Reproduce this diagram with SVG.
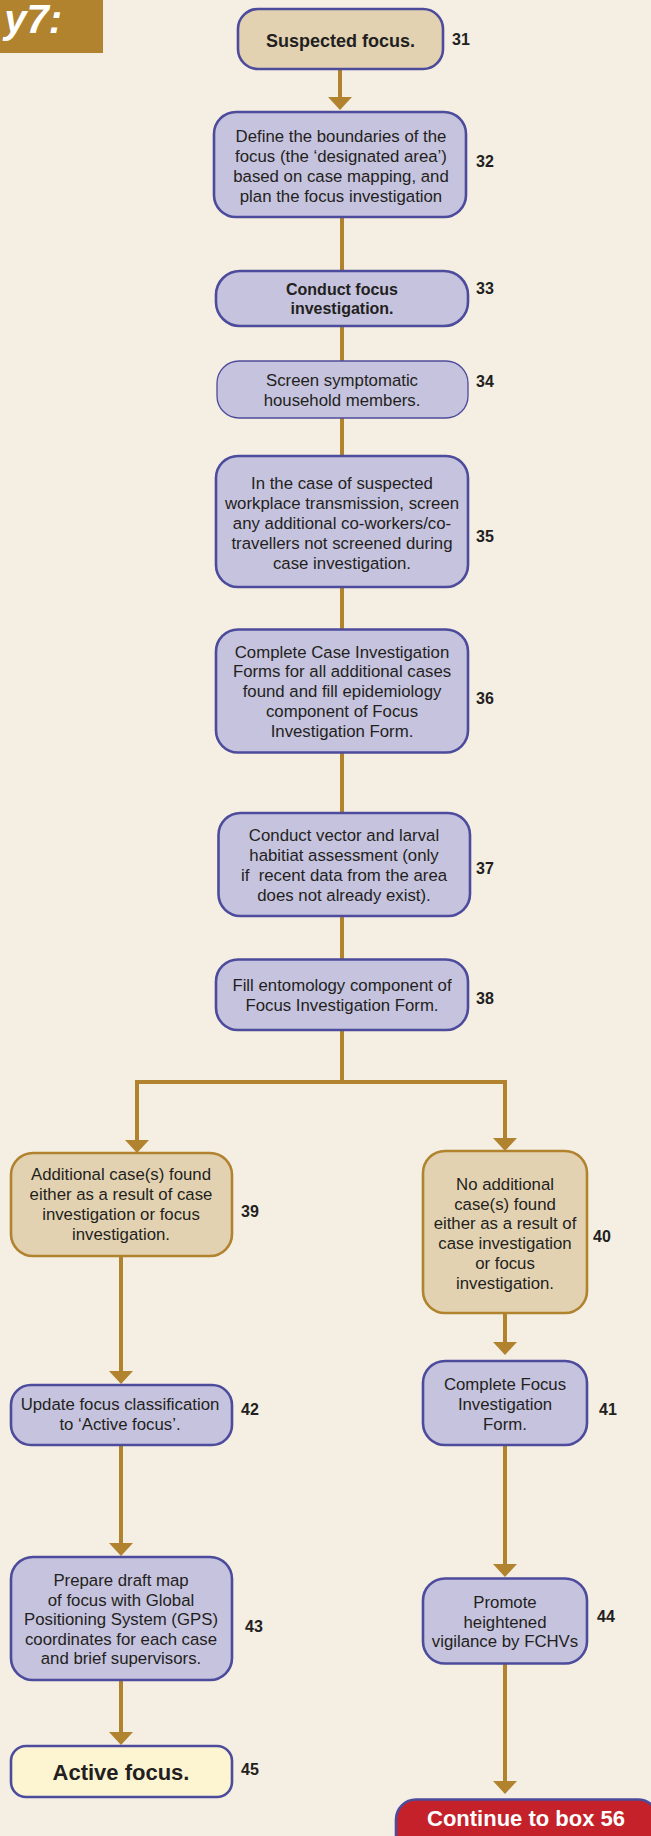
<svg xmlns="http://www.w3.org/2000/svg" width="651" height="1836" viewBox="0 0 651 1836">
<style>
.bg{fill:#f4eee3}
.pb{fill:#c6c3de;stroke:#4d4b9c;stroke-width:2.6}
.tb{fill:#e2d2b2;stroke:#4d4b9c;stroke-width:2.6}
.gb{fill:#e2d2b2;stroke:#b1832f;stroke-width:2.6}
.yb{fill:#fdf5d2;stroke:#4d4b9c;stroke-width:2.6}
.rb{fill:#c4212a;stroke:#4d4b9c;stroke-width:2.6}
.t{font-family:"Liberation Sans",Arial,sans-serif;font-size:16.8px;fill:#231f20;text-anchor:middle}
.tbold{font-family:"Liberation Sans",Arial,sans-serif;font-weight:bold;fill:#231f20;text-anchor:middle}
.num{font-family:"Liberation Sans",Arial,sans-serif;font-weight:bold;font-size:16px;fill:#231f20}
.ln{fill:none;stroke:#b1832f;stroke-width:4}
.ar{marker-end:url(#arr)}
</style>
<defs>
<marker id="arr" markerUnits="userSpaceOnUse" viewBox="0 0 13 24" markerWidth="13" markerHeight="24" refX="1" refY="12" orient="auto">
<path d="M0,0 L13,12 L0,24 Z" fill="#b1832f"/>
</marker>
</defs>
<rect class="bg" x="0" y="0" width="651" height="1836"/>

<g id="header">
<rect x="0" y="0" width="103" height="53" fill="#b1832f"/>
<text x="62" y="33" font-family="Liberation Sans,Arial,sans-serif" font-weight="bold" font-style="italic" font-size="40" fill="#ffffff" text-anchor="end">y7:</text>
</g>

<g id="connectors">
<path class="ln ar" d="M340,69 L340,98"/>
<path class="ln" d="M342,217 L342,271"/>
<path class="ln" d="M342,326 L342,361"/>
<path class="ln" d="M342,418 L342,456"/>
<path class="ln" d="M342,587 L342,630"/>
<path class="ln" d="M342,752 L342,813"/>
<path class="ln" d="M342,916 L342,960"/>
<path class="ln" d="M342,1030 L342,1082"/>
<path class="ln" d="M137,1082 L505,1082"/>
<path class="ln ar" d="M137,1080 L137,1141"/>
<path class="ln ar" d="M505,1080 L505,1139"/>
<path class="ln ar" d="M121,1256 L121,1372"/>
<path class="ln ar" d="M121,1445 L121,1544"/>
<path class="ln ar" d="M121,1680 L121,1733"/>
<path class="ln ar" d="M505,1313 L505,1343"/>
<path class="ln ar" d="M505,1445 L505,1565"/>
<path class="ln ar" d="M505,1663 L505,1782"/>
</g>

<g id="n31">
<rect class="tb" x="238" y="9" width="205" height="60" rx="20"/>
<text class="tbold" x="340.5" y="46.5" font-size="18">Suspected focus.</text>
<text class="num" x="452" y="45">31</text>
</g>

<g id="n32">
<rect class="pb" x="214" y="112" width="252" height="105" rx="22"/>
<text class="t"><tspan x="341" y="142">Define the boundaries of the</tspan><tspan x="341" y="162">focus (the ‘designated area’)</tspan><tspan x="341" y="182">based on case mapping, and</tspan><tspan x="341" y="202">plan the focus investigation</tspan></text>
<text class="num" x="476" y="167">32</text>
</g>

<g id="n33">
<rect class="pb" x="216" y="271" width="252" height="55" rx="24"/>
<text class="tbold" font-size="16"><tspan x="342" y="294.5">Conduct focus</tspan><tspan x="342" y="314">investigation.</tspan></text>
<text class="num" x="476" y="294">33</text>
</g>

<g id="n34">
<rect class="pb" x="217" y="361" width="251" height="57" rx="22" style="stroke-width:1.3"/>
<text class="t"><tspan x="342" y="386">Screen symptomatic</tspan><tspan x="342" y="406">household members.</tspan></text>
<text class="num" x="476" y="387">34</text>
</g>

<g id="n35">
<rect class="pb" x="216" y="456" width="252" height="131" rx="22"/>
<text class="t"><tspan x="342" y="488.5">In the case of suspected</tspan><tspan x="342" y="508.5">workplace transmission, screen</tspan><tspan x="342" y="528.5">any additional co-workers/co-</tspan><tspan x="342" y="548.5">travellers not screened during</tspan><tspan x="342" y="568.5">case investigation.</tspan></text>
<text class="num" x="476" y="542">35</text>
</g>

<g id="n36">
<rect class="pb" x="216" y="629.5" width="252" height="123" rx="22"/>
<text class="t"><tspan x="342" y="657.5">Complete Case Investigation</tspan><tspan x="342" y="677.3">Forms for all additional cases</tspan><tspan x="342" y="697.1">found and fill epidemiology</tspan><tspan x="342" y="716.9">component of Focus</tspan><tspan x="342" y="736.7">Investigation Form.</tspan></text>
<text class="num" x="476" y="704">36</text>
</g>

<g id="n37">
<rect class="pb" x="218.5" y="813" width="251.5" height="103" rx="22"/>
<text class="t"><tspan x="344" y="841">Conduct vector and larval</tspan><tspan x="344" y="861">habitiat assessment (only</tspan><tspan x="344" y="881">if&#160; recent data from the area</tspan><tspan x="344" y="901">does not already exist).</tspan></text>
<text class="num" x="476" y="874">37</text>
</g>

<g id="n38">
<rect class="pb" x="216" y="959.5" width="252" height="70.5" rx="22"/>
<text class="t"><tspan x="342" y="991">Fill entomology component of</tspan><tspan x="342" y="1011">Focus Investigation Form.</tspan></text>
<text class="num" x="476" y="1004">38</text>
</g>

<g id="n39">
<rect class="gb" x="11" y="1153" width="221" height="103" rx="22"/>
<text class="t"><tspan x="121" y="1180">Additional case(s) found</tspan><tspan x="121" y="1200">either as a result of case</tspan><tspan x="121" y="1220">investigation or focus</tspan><tspan x="121" y="1240">investigation.</tspan></text>
<text class="num" x="241" y="1217">39</text>
</g>

<g id="n40">
<rect class="gb" x="423" y="1151" width="164" height="162" rx="22"/>
<text class="t"><tspan x="505" y="1190">No additional</tspan><tspan x="505" y="1209.7">case(s) found</tspan><tspan x="505" y="1229.4">either as a result of</tspan><tspan x="505" y="1249.1">case investigation</tspan><tspan x="505" y="1268.8">or focus</tspan><tspan x="505" y="1288.5">investigation.</tspan></text>
<text class="num" x="593" y="1242">40</text>
</g>

<g id="n41">
<rect class="pb" x="423" y="1361" width="164" height="84" rx="22"/>
<text class="t"><tspan x="505" y="1390">Complete Focus</tspan><tspan x="505" y="1410">Investigation</tspan><tspan x="505" y="1430">Form.</tspan></text>
<text class="num" x="599" y="1415">41</text>
</g>

<g id="n42">
<rect class="pb" x="11" y="1385" width="221" height="60" rx="20"/>
<text class="t"><tspan x="120" y="1410">Update focus classification</tspan><tspan x="120" y="1430">to ‘Active focus’.</tspan></text>
<text class="num" x="241" y="1415">42</text>
</g>

<g id="n43">
<rect class="pb" x="11" y="1557" width="221" height="123" rx="22"/>
<text class="t"><tspan x="121" y="1586">Prepare draft map</tspan><tspan x="121" y="1605.5">of focus with Global</tspan><tspan x="121" y="1625">Positioning System (GPS)</tspan><tspan x="121" y="1644.7">coordinates for each case</tspan><tspan x="121" y="1664.4">and brief supervisors.</tspan></text>
<text class="num" x="245" y="1632">43</text>
</g>

<g id="n44">
<rect class="pb" x="423" y="1578.5" width="164" height="85" rx="22"/>
<text class="t"><tspan x="505" y="1608">Promote</tspan><tspan x="505" y="1627.5">heightened</tspan><tspan x="505" y="1647">vigilance by FCHVs</tspan></text>
<text class="num" x="597" y="1622">44</text>
</g>

<g id="n45">
<rect class="yb" x="11" y="1746" width="221" height="51" rx="15"/>
<text class="tbold" x="121" y="1780" font-size="22">Active focus.</text>
<text class="num" x="241" y="1775">45</text>
</g>

<g id="n56">
<rect class="rb" x="396" y="1799.5" width="262" height="60" rx="20"/>
<text class="tbold" x="526" y="1826" font-size="22" style="fill:#ffffff">Continue to box 56</text>
</g>
</svg>
